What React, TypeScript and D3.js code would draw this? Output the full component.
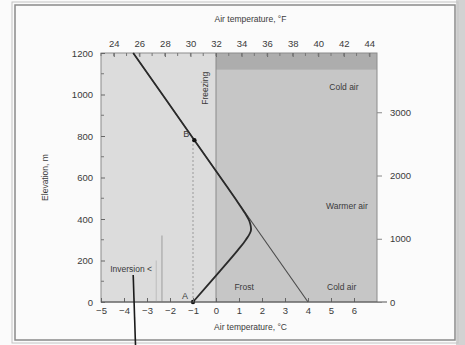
import React, { useEffect, useRef } from 'react';
import * as d3 from 'd3';

// Temperature profile
const profileElevation = [1200, 780, 560, 480, 430, 390, 345, 300, 250, 150, 0];
const profileTemp = [-3.6, -0.94, 0.45, 0.95, 1.25, 1.45, 1.52, 1.3, 0.95, 0.18, -1.0];

// Normal lapse rate line (extension below the inversion)
const lapseElevation = [1200, 0];
const lapseTemp = [-3.6, 4.0];

// Tick values
const celsiusTicks = [-5, -4, -3, -2, -1, 0, 1, 2, 3, 4, 5, 6];
const fahrenheitTicks = [24, 26, 28, 30, 32, 34, 36, 38, 40, 42, 44];
const meterTicks = [0, 200, 400, 600, 800, 1000, 1200];
const feetTicks = [0, 1000, 2000, 3000];

// Labelled points
const markedPoints = [
  { label: 'A', temp: -1.0, elev: 0 },
  { label: 'B', temp: -0.94, elev: 780 },
];

const App = () => {
  const svgRef = useRef<SVGSVGElement>(null);

  useEffect(() => {
    const svg = d3.select(svgRef.current);
    svg.selectAll('*').remove();

    const W = 465, H = 345;
    const left = 101, right = 377, top = 53, bottom = 302;

    const x = d3.scaleLinear().domain([-5, 7]).range([left, right]);
    const y = d3.scaleLinear().domain([0, 1200]).range([bottom, top]);
    const xF = d3.scaleLinear().domain([-5 * 1.8 + 32, 7 * 1.8 + 32]).range([left, right]);
    const yFt = d3.scaleLinear().domain([0, 1200 / 0.3048]).range([bottom, top]);

    const font = 'Liberation Sans, Arial, sans-serif';
    const ink = '#3a3a3a';
    const plain = (d: d3.NumberValue) => String(d).replace('-', '\u2212');

    // paper
    svg.append('rect').attr('width', W).attr('height', H).attr('fill', '#fbfbfb');
    svg.append('rect').attr('x', 456).attr('y', 0).attr('width', 9).attr('height', H).attr('fill', '#d2d2d2');
    svg.append('rect').attr('x', 15).attr('y', 5).attr('width', 440).attr('height', 335)
      .attr('fill', 'none').attr('stroke', '#8a8a8a').attr('stroke-width', 1.5);
    svg.append('rect').attr('x', 12).attr('y', 2).attr('width', 446).attr('height', 341)
      .attr('fill', 'none').attr('stroke', '#c4c4c4').attr('stroke-width', 1);

    // shaded regions
    svg.append('rect').attr('x', x(-5)).attr('y', y(1200)).attr('width', x(0) - x(-5))
      .attr('height', y(0) - y(1200)).attr('fill', '#dcdcdc');
    svg.append('rect').attr('x', x(0)).attr('y', y(1200)).attr('width', x(7) - x(0))
      .attr('height', y(0) - y(1200)).attr('fill', '#c6c6c6');
    svg.append('rect').attr('x', x(0)).attr('y', y(1200)).attr('width', x(7) - x(0))
      .attr('height', y(1120) - y(1200)).attr('fill', '#adadad');
    svg.append('rect').attr('x', left).attr('y', top).attr('width', right - left)
      .attr('height', bottom - top).attr('fill', 'none').attr('stroke', '#8c8c8c').attr('stroke-width', 1);

    // freezing line
    svg.append('line').attr('x1', x(0)).attr('x2', x(0)).attr('y1', y(1200)).attr('y2', y(0))
      .attr('stroke', '#8a8a8a').attr('stroke-width', 1);

    // A-B dotted vertical
    svg.append('line').attr('x1', x(-1)).attr('x2', x(-1)).attr('y1', y(0)).attr('y2', y(780))
      .attr('stroke', '#9a9a9a').attr('stroke-width', 1).attr('stroke-dasharray', '2,2');

    // inversion bracket lines
    svg.append('line').attr('x1', x(-2.35)).attr('x2', x(-2.35)).attr('y1', y(0)).attr('y2', y(320))
      .attr('stroke', '#a8a8a8').attr('stroke-width', 1.2);
    svg.append('line').attr('x1', x(-2.6)).attr('x2', x(-2.6)).attr('y1', y(0)).attr('y2', y(200))
      .attr('stroke', '#bdbdbd').attr('stroke-width', 1);

    // lapse line (thin, continues below inversion)
    const line = d3.line<number>()
      .x((_, i) => x(lapseTemp[i]))
      .y((d) => y(d));
    svg.append('path').attr('d', line(lapseElevation))
      .attr('fill', 'none').attr('stroke', '#4a4a4a').attr('stroke-width', 1.1);

    // profile curve
    const curve = d3.line<number>()
      .x((_, i) => x(profileTemp[i]))
      .y((d) => y(d))
      .curve(d3.curveCatmullRom.alpha(0.5));
    svg.append('path').attr('d', curve(profileElevation))
      .attr('fill', 'none').attr('stroke', '#2a2a2a').attr('stroke-width', 1.8);

    // points
    markedPoints.forEach((p) => {
      svg.append('circle').attr('cx', x(p.temp)).attr('cy', y(p.elev)).attr('r', 2.2).attr('fill', '#111');
      svg.append('text').attr('x', x(p.temp) - 5).attr('y', y(p.elev) - 3)
        .attr('text-anchor', 'end').attr('font-family', font).attr('font-size', 9)
        .attr('fill', ink).text(p.label);
    });

    // bottom axis (°C)
    const bottomAxis = svg.append('g').attr('transform', `translate(0,${bottom})`)
      .call(d3.axisBottom(x).tickValues(celsiusTicks).tickSizeInner(-4).tickSizeOuter(0).tickPadding(5)
        .tickFormat(plain));
    bottomAxis.select('.domain').remove();
    bottomAxis.selectAll('text').attr('font-family', font).attr('font-size', 9.5).attr('fill', ink);
    bottomAxis.selectAll('line').attr('stroke', '#666');
    svg.append('line').attr('x1', left).attr('x2', 387).attr('y1', bottom).attr('y2', bottom)
      .attr('stroke', '#555').attr('stroke-width', 1.2);

    // top axis (°F)
    const topAxis = svg.append('g').attr('transform', `translate(0,${top})`)
      .call(d3.axisTop(xF).tickValues(fahrenheitTicks).tickSizeInner(-4).tickSizeOuter(0).tickPadding(6)
        .tickFormat(plain));
    topAxis.select('.domain').remove();
    topAxis.selectAll('text').attr('font-family', font).attr('font-size', 9.5).attr('fill', ink);
    topAxis.selectAll('line').attr('stroke', '#666');
    svg.append('g').selectAll('line').data(d3.range(23, 45, 1)).join('line')
      .attr('x1', (d) => xF(d)).attr('x2', (d) => xF(d)).attr('y1', top).attr('y2', top + 3)
      .attr('stroke', '#777');

    // left axis (m)
    const leftAxis = svg.append('g').attr('transform', `translate(${left},0)`)
      .call(d3.axisLeft(y).tickValues(meterTicks).tickSizeInner(-4).tickSizeOuter(0).tickPadding(8)
        .tickFormat(plain));
    leftAxis.select('.domain').remove();
    leftAxis.selectAll('text').attr('font-family', font).attr('font-size', 9.5).attr('fill', ink);
    leftAxis.selectAll('line').attr('stroke', '#666');
    svg.append('g').selectAll('line').data(d3.range(100, 1200, 200)).join('line')
      .attr('x1', left).attr('x2', left + 3).attr('y1', (d) => y(d)).attr('y2', (d) => y(d))
      .attr('stroke', '#777');

    // right axis (ft)
    const rightAxis = svg.append('g').attr('transform', `translate(${right},0)`)
      .call(d3.axisRight(yFt).tickValues(feetTicks).tickSizeInner(5).tickSizeOuter(0).tickPadding(8)
        .tickFormat(plain));
    rightAxis.select('.domain').remove();
    rightAxis.selectAll('text').attr('font-family', font).attr('font-size', 9.5).attr('fill', ink);
    rightAxis.selectAll('line').attr('stroke', '#888');

    // axis titles
    svg.append('text').attr('x', x(1.5)).attr('y', 22).attr('text-anchor', 'middle')
      .attr('font-family', font).attr('font-size', 8.5).attr('fill', ink).text('Air temperature, °F');
    svg.append('text').attr('x', x(1.5)).attr('y', 330).attr('text-anchor', 'middle')
      .attr('font-family', font).attr('font-size', 8.5).attr('fill', ink).text('Air temperature, °C');
    svg.append('text').attr('transform', `translate(48,${y(600)}) rotate(-90)`).attr('text-anchor', 'middle')
      .attr('font-family', font).attr('font-size', 8.5).attr('fill', ink).text('Elevation, m');

    // annotations
    const note = (tx: number, ty: number, s: string, anchor = 'start') =>
      svg.append('text').attr('x', tx).attr('y', ty).attr('text-anchor', anchor)
        .attr('font-family', font).attr('font-size', 8.5).attr('fill', ink).text(s);
    note(x(6.2), y(1020), 'Cold air', 'end');
    note(x(6.6), y(450), 'Warmer air', 'end');
    note(x(6.1), y(60), 'Cold air', 'end');
    note(x(0.8), y(60), 'Frost');
    note(x(-4.6), y(145), 'Inversion <');
    svg.append('text').attr('transform', `translate(${x(-0.35)},${y(1030)}) rotate(-90)`)
      .attr('text-anchor', 'middle').attr('font-family', font).attr('font-size', 8.5)
      .attr('fill', ink).text('Freezing');

    // leader line below the frame
    svg.append('line').attr('x1', x(-3.6)).attr('x2', x(-3.5)).attr('y1', y(130)).attr('y2', H)
      .attr('stroke', '#1a1a1a').attr('stroke-width', 1.6);
  }, []);

  return (
    <svg ref={svgRef} width={465} height={345}
      style={{ position: 'fixed', left: 0, top: 0, display: 'block' }} />
  );
};

export default App;
